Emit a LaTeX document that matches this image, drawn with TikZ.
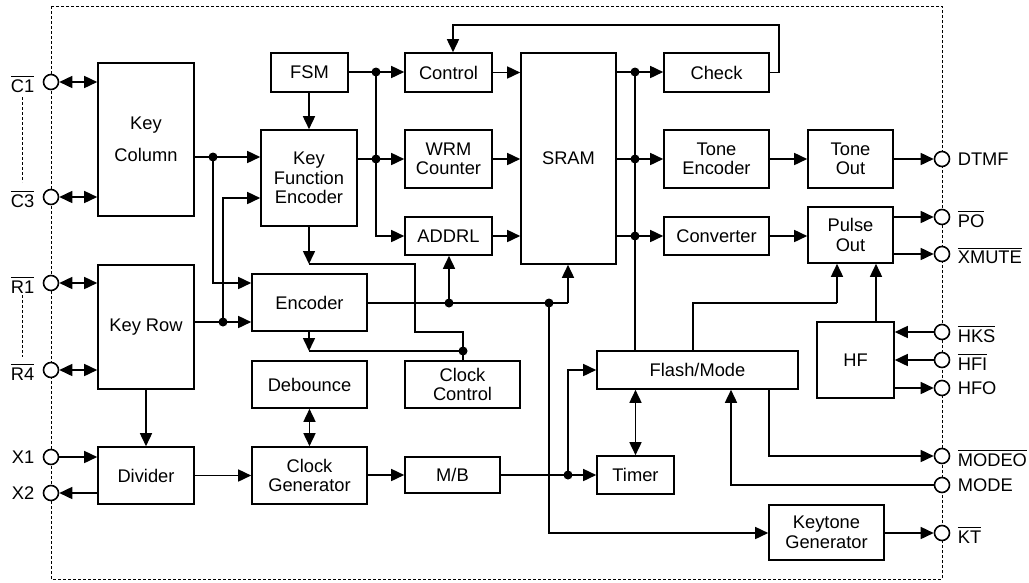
\documentclass[tikz,border=0pt]{standalone}
\usepackage{fontspec}
\setmainfont{Liberation Sans}
\usetikzlibrary{arrows.meta,calc}
\newcommand{\ovl}[1]{\vbox{\hrule height 1.4pt \kern 2pt \hbox{#1}}}
\begin{document}
\begin{tikzpicture}[x=1pt,y=-1pt,line width=1.6pt,
  blk/.style={draw,fill=white,inner sep=0pt,align=center,font=\fontsize{18.3}{19.5}\selectfont},
  pin/.style={circle,draw,fill=white,minimum size=15pt,inner sep=0pt},
  lbl/.style={inner sep=0pt,font=\fontsize{18.3}{20}\selectfont},
  arr/.style={-{Triangle[length=13pt,width=12pt]}},
  dbl/.style={{Triangle[length=13pt,width=12pt]}-{Triangle[length=13pt,width=12pt]}},
  outer/.style={line width=1pt,dash pattern=on 3pt off 2pt},
  dotc/.style={fill=black}]
\useasboundingbox (0,0) rectangle (1029,582);
\draw[outer] (51,6) rectangle (942,579);
\draw[outer] (22,97) -- (22,182);
\draw[outer] (22,295) -- (22,357);

% blocks
\node[blk,minimum width=96pt,minimum height=153pt] (kcol) at (146,139.5) {Key\\[12pt]Column};
\node[blk,minimum width=96pt,minimum height=124pt] (krow) at (146,327) {Key Row};
\node[blk,minimum width=96pt,minimum height=57pt] (div) at (146,475.5) {Divider};
\node[blk,minimum width=77pt,minimum height=39pt] (fsm) at (309.5,72.5) {FSM};
\node[blk,minimum width=96pt,minimum height=96pt] (kfe) at (309,178) {Key\\Function\\Encoder};
\node[blk,minimum width=115pt,minimum height=57pt] (enc) at (309.5,302.5) {Encoder};
\node[blk,minimum width=115pt,minimum height=47pt] (deb) at (309.5,384.5) {Debounce};
\node[blk,minimum width=115pt,minimum height=57pt] (cgen) at (309.5,475.5) {Clock\\Generator};
\node[blk,minimum width=87pt,minimum height=39pt] (ctrl) at (448.5,72.5) {Control};
\node[blk,minimum width=87pt,minimum height=58pt] (wrm) at (448.5,159) {WRM\\Counter};
\node[blk,minimum width=87pt,minimum height=38pt] (addrl) at (448.5,236) {ADDRL};
\node[blk,minimum width=115pt,minimum height=47pt] (cctl) at (462.5,384.5) {Clock\\Control};
\node[blk,minimum width=95pt,minimum height=36pt] (mb) at (452.5,475) {M/B};
\node[blk,minimum width=95pt,minimum height=211pt] (sram) at (568.5,158.5) {SRAM};
\node[blk,minimum width=105pt,minimum height=39pt] (check) at (716.5,72.5) {Check};
\node[blk,minimum width=105pt,minimum height=58pt] (tenc) at (716.5,159) {Tone\\Encoder};
\node[blk,minimum width=105pt,minimum height=38pt] (conv) at (716.5,236) {Converter};
\node[blk,minimum width=85pt,minimum height=58pt] (tout) at (850.5,159) {Tone\\Out};
\node[blk,minimum width=85pt,minimum height=56pt] (pout) at (850.5,235) {Pulse\\Out};
\node[blk,minimum width=77pt,minimum height=76pt] (hf) at (855.5,360) {HF};
\node[blk,minimum width=201pt,minimum height=38pt] (fm) at (697.5,370) {Flash/Mode};
\node[blk,minimum width=77pt,minimum height=38pt] (timer) at (635.5,475) {Timer};
\node[blk,minimum width=115pt,minimum height=55pt] (ktg) at (826.5,532.5) {Keytone\\Generator};

% pins
\node[pin] (pC1) at (51,82) {};
\node[pin] (pC3) at (51,197) {};
\node[pin] (pR1) at (51,283) {};
\node[pin] (pR4) at (51,370) {};
\node[pin] (pX1) at (51,457) {};
\node[pin] (pX2) at (51,493) {};
\node[pin] (pDTMF) at (942,159) {};
\node[pin] (pPO) at (942,217) {};
\node[pin] (pXM) at (942,254) {};
\node[pin] (pHKS) at (942,332) {};
\node[pin] (pHFI) at (942,360) {};
\node[pin] (pHFO) at (942,388) {};
\node[pin] (pMODEO) at (942,456) {};
\node[pin] (pMODE) at (942,485) {};
\node[pin] (pKT) at (942,533) {};

% pin labels
\node[lbl,anchor=east] (lC1) at (35,84) {\ovl{C1}};
\node[lbl,anchor=east] (lC3) at (35,199) {\ovl{C3}};
\node[lbl,anchor=east] (lR1) at (35,285) {\ovl{R1}};
\node[lbl,anchor=east] (lR4) at (35,372) {\ovl{R4}};
\node[lbl,anchor=east] (lX1) at (35,457) {X1};
\node[lbl,anchor=east] (lX2) at (35,493) {X2};
\node[lbl,anchor=west] (lDTMF) at (957,159) {DTMF};
\node[lbl,anchor=west] (lPO) at (957,219) {\ovl{PO}};
\node[lbl,anchor=west] (lXM) at (957,256) {\ovl{XMUTE}};
\node[lbl,anchor=west] (lHKS) at (957,334) {\ovl{HKS}};
\node[lbl,anchor=west] (lHFI) at (957,362) {\ovl{HFI}};
\node[lbl,anchor=west] (lHFO) at (957,388) {HFO};
\node[lbl,anchor=west] (lMODEO) at (957,458) {\ovl{MODEO}};
\node[lbl,anchor=west] (lMODE) at (957,485) {MODE};
\node[lbl,anchor=west] (lKT) at (957,535) {\ovl{KT}};

% left pins
\draw[dbl] (pC1) -- (pC1 -| kcol.west);
\draw[dbl] (pC3) -- (pC3 -| kcol.west);
\draw[dbl] (pR1) -- (pR1 -| krow.west);
\draw[dbl] (pR4) -- (pR4 -| krow.west);
\draw[arr] (pX1) -- (pX1 -| div.west);
\draw[arr] (pX2 -| div.west) -- (pX2);
\draw[arr] (krow.south) -- (div.north);

% key column / row outputs
\coordinate (j1) at (213,157);
\coordinate (j1b) at (213,283);
\coordinate (j2) at (223,322);
\coordinate (j2b) at (223,198);
\draw (kcol.east |- j1) -- (j1);
\draw[arr] (j1) -- (j1 -| kfe.west);
\draw[arr] (j1) -- (j1b) -- (j1b -| enc.west);
\draw (krow.east |- j2) -- (j2);
\draw[arr] (j2) -- (j2 -| enc.west);
\draw[arr] (j2) -- (j2b) -- (j2b -| kfe.west);
\fill (j1) circle (4.5pt);
\fill (j2) circle (4.5pt);

% FSM bus
\draw[arr] (fsm.south -| kfe.north) -- (kfe.north);
\coordinate (b1) at (376,72);
\coordinate (b2) at (376,159);
\coordinate (b3) at (376,236);
\draw (fsm.east |- b1) -- (b1);
\draw[arr] (b1) -- (b1 -| ctrl.west);
\draw (kfe.east |- b2) -- (b2);
\draw[arr] (b2) -- (b2 -| wrm.west);
\draw[arr] (b1) -- (b3) -- (b3 -| addrl.west);
\fill (b1) circle (4.5pt);
\fill (b2) circle (4.5pt);

% into SRAM
\draw[arr] (ctrl.east) -- (ctrl.east -| sram.west);
\draw[arr] (wrm.east) -- (wrm.east -| sram.west);
\draw[arr] (addrl.east) -- (addrl.east -| sram.west);

% SRAM outputs
\coordinate (s1) at (635,72);
\coordinate (s2) at (635,159);
\coordinate (s3) at (635,236);
\draw (sram.east |- s1) -- (s1);
\draw[arr] (s1) -- (s1 -| check.west);
\draw (sram.east |- s2) -- (s2);
\draw[arr] (s2) -- (s2 -| tenc.west);
\draw (sram.east |- s3) -- (s3);
\draw[arr] (s3) -- (s3 -| conv.west);
\draw (s1) -- (s1 |- fm.north);
\fill (s1) circle (4.5pt);
\fill (s2) circle (4.5pt);
\fill (s3) circle (4.5pt);

% check feedback
\coordinate (c1) at (779,25);
\coordinate (c2) at (453,25);
\draw[arr] (check.east) -- (check.east -| c1) -- (c1) -- (c2) -- (c2 |- ctrl.north);

% tone / pulse
\draw[arr] (tenc.east) -- (tout.west);
\draw[arr] (tout.east |- pDTMF) -- (pDTMF);
\draw[arr] (conv.east) -- (conv.east -| pout.west);
\draw[arr] (pout.east |- pPO) -- (pPO);
\draw[arr] (pout.east |- pXM) -- (pXM);

% KFE / Encoder to clock control
\coordinate (k1) at (309,264);
\coordinate (k2) at (415,264);
\coordinate (k3) at (415,332);
\coordinate (k4) at (463,332);
\coordinate (k5) at (463,351);
\coordinate (k6) at (309,351);
\draw[arr] (kfe.south) -- (k1);
\draw (k1) -- (k2) -- (k3) -- (k4) -- (k5) -- (k5 |- cctl.north);
\draw[arr] (k6 |- enc.south) -- (k6);
\draw (k6) -- (k5);
\fill (k5) circle (4.5pt);

% encoder output
\coordinate (e1) at (449,303);
\coordinate (e2) at (549,303);
\coordinate (e3) at (568,303);
\coordinate (e4) at (549,533);
\draw (enc.east |- e1) -- (e3);
\draw[arr] (e3) -- (e3 |- sram.south);
\draw[arr] (e1) -- (e1 |- addrl.south);
\draw[arr] (e2) -- (e4) -- (e4 -| ktg.west);
\fill (e1) circle (4.5pt);
\fill (e2) circle (4.5pt);

% clock chain
\draw[dbl] (deb.south) -- (cgen.north);
\draw[arr] (div.east) -- (div.east -| cgen.west);
\draw[arr] (cgen.east |- mb.west) -- (mb.west);
\coordinate (m1) at (568,475);
\coordinate (m2) at (568,370);
\draw (mb.east) -- (m1);
\draw[arr] (m1) -- (m1 -| timer.west);
\draw[arr] (m1) -- (m2) -- (m2 -| fm.west);
\fill (m1) circle (4.5pt);
\draw[dbl] (timer.north |- fm.south) -- (timer.north);

% flash/mode to pulse out
\coordinate (f1) at (693,303);
\coordinate (f2) at (837,303);
\draw (f1 |- fm.north) -- (f1) -- (f2);
\draw[arr] (f2) -- (f2 |- pout.south);
\coordinate (h1) at (876,300);
\draw[arr] (h1 |- hf.north) -- (h1 |- pout.south);

% HF pins
\draw[arr] (pHKS) -- (pHKS -| hf.east);
\draw[arr] (pHFI) -- (pHFI -| hf.east);
\draw[arr] (pHFO -| hf.east) -- (pHFO);

% mode
\coordinate (mo) at (769,456);
\draw[arr] (mo |- fm.south) -- (mo) -- (pMODEO);
\coordinate (md) at (731,485);
\draw[arr] (pMODE) -- (md) -- (md |- fm.south);
\draw[arr] (ktg.east |- pKT) -- (pKT);
\end{tikzpicture}
\end{document}
